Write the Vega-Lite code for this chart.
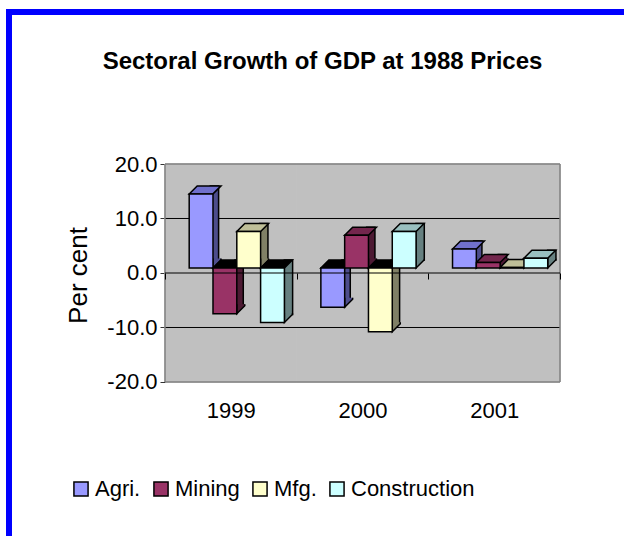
{
  "$schema": "https://vega.github.io/schema/vega-lite/v6.json",
  "width": 621,
  "height": 530,
  "autosize": {"type": "none"},
  "padding": {"left": 9, "top": 12, "right": -6, "bottom": -6},
  "background": "white",
  "config": {
    "view": {"stroke": "#0000FF", "strokeWidth": 6, "fill": null},
    "font": "Liberation Sans",
    "locale": {"number": {"decimal": ".", "thousands": ",", "grouping": [3], "currency": ["$", ""], "minus": "-"}}
  },
  "title": {
    "text": "Sectoral Growth of GDP at 1988 Prices",
    "font": "Liberation Sans",
    "fontSize": 24,
    "fontWeight": "bold",
    "color": "black",
    "anchor": "middle",
    "frame": "group",
    "baseline": "alphabetic",
    "offset": -81,
    "dx": 3
  },
  "datasets": {
    "growth": [
      {"year": "1999", "sector": "Agri.", "value": 13.6},
      {"year": "1999", "sector": "Mining", "value": -8.4},
      {"year": "1999", "sector": "Mfg.", "value": 6.7},
      {"year": "1999", "sector": "Construction", "value": -10.0},
      {"year": "2000", "sector": "Agri.", "value": -7.2},
      {"year": "2000", "sector": "Mining", "value": 6.0},
      {"year": "2000", "sector": "Mfg.", "value": -11.7},
      {"year": "2000", "sector": "Construction", "value": 6.7},
      {"year": "2001", "sector": "Agri.", "value": 3.5},
      {"year": "2001", "sector": "Mining", "value": 1.0},
      {"year": "2001", "sector": "Mfg.", "value": 0.1},
      {"year": "2001", "sector": "Construction", "value": 1.8}
    ],
    "years": [{"year": "1999"}, {"year": "2000"}, {"year": "2001"}],
    "grid": [{"g": 10}, {"g": -10}],
    "border": [{"g": 20}, {"g": -20}],
    "one": [{"k": 1}]
  },
  "layer": [
    {
      "data": {"name": "years"},
      "mark": {"type": "bar", "width": {"band": 1}, "fill": "#C0C0C0", "stroke": "#C0C0C0", "strokeWidth": 1},
      "encoding": {
        "x": {"field": "year", "type": "ordinal",
              "scale": {"domain": ["1999", "2000", "2001"], "paddingInner": 0, "paddingOuter": 0.85823, "align": 0.69027, "round": false},
              "axis": {"orient": "bottom", "offset": -269, "domain": false, "ticks": true, "tickBand": "extent", "tickSize": 6, "tickColor": "black", "tickWidth": 1,
                       "labelPadding": 121, "labelFontSize": 22, "labelColor": "black", "labelAngle": 0, "title": null, "grid": false, "zindex": 1}},
        "y": {"datum": 20, "type": "quantitative",
              "scale": {"domain": [-49.358, 47.89], "nice": false, "zero": false},
              "axis": {"orient": "left", "offset": -156, "domain": false, "values": [-20, -10, 0, 10, 20], "format": ".1f", "tickSize": 5, "tickColor": "#333333",
                       "labelPadding": 3, "labelFontSize": 22, "labelColor": "black", "grid": false,
                       "title": "Per cent", "titleFontSize": 26, "titleFontWeight": "normal", "titleColor": "black", "titleAngle": -90,
                       "titleX": -87, "titleY": 263, "titleAlign": "center", "titleBaseline": "middle"}},
        "y2": {"datum": -20}
      }
    },
    {
      "data": {"name": "grid"},
      "mark": {"type": "rule", "stroke": "black", "strokeWidth": 1, "xOffset": -65.83, "x2Offset": 65.83},
      "encoding": {
        "x": {"datum": "1999", "type": "ordinal"},
        "x2": {"datum": "2001"},
        "y": {"field": "g", "type": "quantitative"}
      }
    },
    {
      "data": {"name": "border"},
      "mark": {"type": "rule", "stroke": "#808080", "strokeWidth": 1.5, "xOffset": -65.83, "x2Offset": 65.83},
      "encoding": {
        "x": {"datum": "1999", "type": "ordinal"},
        "x2": {"datum": "2001"},
        "y": {"field": "g", "type": "quantitative"}
      }
    },
    {
      "data": {"name": "one"},
      "mark": {"type": "rule", "stroke": "#808080", "strokeWidth": 1.5, "xOffset": -65.83},
      "encoding": {
        "x": {"datum": "1999", "type": "ordinal"},
        "y": {"datum": 20, "type": "quantitative"},
        "y2": {"datum": -20}
      }
    },
    {
      "data": {"name": "one"},
      "mark": {"type": "rule", "stroke": "#808080", "strokeWidth": 1.5, "xOffset": 65.83},
      "encoding": {
        "x": {"datum": "2001", "type": "ordinal"},
        "y": {"datum": 20, "type": "quantitative"},
        "y2": {"datum": -20}
      }
    },
    {
      "data": {"name": "growth"},
      "mark": {"type": "bar", "yOffset": -13, "y2Offset": -13, "stroke": "black", "strokeWidth": 1.5},
      "encoding": {
        "x": {"field": "year", "type": "ordinal"},
        "xOffset": {"field": "sector", "type": "nominal",
                    "scale": {"type": "band", "domain": ["Agri.", "Mining", "Mfg.", "Construction"], "paddingInner": 0.664, "paddingOuter": 1.098, "align": 0.918}},
        "y": {"field": "value", "type": "quantitative"},
        "y2": {"datum": 0},
        "color": {"field": "sector", "type": "nominal", "legend": null,
                  "scale": {"domain": ["Agri.", "Mining", "Mfg.", "Construction"], "range": ["#4D4D8C", "#4D1A33", "#808066", "#668080"]}}
      }
    },
    {
      "data": {"name": "growth"},
      "transform": [{"filter": "datum.value >= 0"}],
      "mark": {"type": "point", "shape": "M11.9,-9.5 L11.9,0 L19.9,-8 L19.9,-9.5", "size": 4, "filled": true, "opacity": 1, "stroke": "black", "strokeWidth": 1.5, "yOffset": -5},
      "encoding": {
        "x": {"field": "year", "type": "ordinal"},
        "xOffset": {"field": "sector", "type": "nominal",
                    "scale": {"type": "band", "domain": ["Agri.", "Mining", "Mfg.", "Construction"], "paddingInner": 0, "paddingOuter": 0.766, "align": 0.6636}},
        "y": {"datum": 0, "type": "quantitative"},
        "color": {"field": "sector", "type": "nominal", "legend": null,
                  "scale": {"domain": ["Agri.", "Mining", "Mfg.", "Construction"], "range": ["#4D4D8C", "#4D1A33", "#808066", "#668080"]}}
      }
    },
    {
      "data": {"name": "growth"},
      "transform": [{"filter": "datum.value < 0"}],
      "mark": {"type": "point", "shape": "M11.9,-9.5 L11.9,0 L19.9,-8 L19.9,-9.5", "size": 4, "filled": true, "opacity": 1, "stroke": "black", "strokeWidth": 1.5, "yOffset": -5},
      "encoding": {
        "x": {"field": "year", "type": "ordinal"},
        "xOffset": {"field": "sector", "type": "nominal",
                    "scale": {"type": "band", "domain": ["Agri.", "Mining", "Mfg.", "Construction"], "paddingInner": 0, "paddingOuter": 0.766, "align": 0.6636}},
        "y": {"field": "value", "type": "quantitative"},
        "color": {"field": "sector", "type": "nominal", "legend": null,
                  "scale": {"domain": ["Agri.", "Mining", "Mfg.", "Construction"], "range": ["#4D4D8C", "#4D1A33", "#808066", "#668080"]}}
      }
    },
    {
      "data": {"name": "growth"},
      "transform": [{"filter": "datum.value >= 0"}],
      "mark": {"type": "point", "shape": "M-11.9,0 L11.9,0 L19.9,-8 L-3.9,-8 Z", "size": 4, "filled": true, "opacity": 1, "stroke": "black", "strokeWidth": 1.5, "yOffset": -5},
      "encoding": {
        "x": {"field": "year", "type": "ordinal"},
        "xOffset": {"field": "sector", "type": "nominal",
                    "scale": {"type": "band", "domain": ["Agri.", "Mining", "Mfg.", "Construction"], "paddingInner": 0, "paddingOuter": 0.766, "align": 0.6636}},
        "y": {"field": "value", "type": "quantitative"},
        "color": {"field": "sector", "type": "nominal", "legend": null,
                  "scale": {"domain": ["Agri.", "Mining", "Mfg.", "Construction"], "range": ["#7070CC", "#73264D", "#BFBF99", "#99BFBF"]}}
      }
    },
    {
      "data": {"name": "growth"},
      "transform": [{"filter": "datum.value < 0"}],
      "mark": {"type": "point", "shape": "M-11.9,0 L11.9,0 L19.9,-8 L-3.9,-8 Z", "size": 4, "filled": true, "opacity": 1, "fill": "black", "stroke": "black", "strokeWidth": 1.5, "yOffset": -5},
      "encoding": {
        "x": {"field": "year", "type": "ordinal"},
        "xOffset": {"field": "sector", "type": "nominal",
                    "scale": {"type": "band", "domain": ["Agri.", "Mining", "Mfg.", "Construction"], "paddingInner": 0, "paddingOuter": 0.766, "align": 0.6636}},
        "y": {"datum": 0, "type": "quantitative"}
      }
    },
    {
      "data": {"name": "growth"},
      "mark": {"type": "bar", "stroke": "black", "strokeWidth": 1.5, "yOffset": -5, "y2Offset": -5},
      "encoding": {
        "x": {"field": "year", "type": "ordinal"},
        "xOffset": {"field": "sector", "type": "nominal",
                    "scale": {"type": "band", "domain": ["Agri.", "Mining", "Mfg.", "Construction"], "paddingInner": 0, "paddingOuter": 0.766, "align": 0.6636}},
        "y": {"field": "value", "type": "quantitative"},
        "y2": {"datum": 0},
        "color": {"field": "sector", "type": "nominal",
                  "scale": {"domain": ["Agri.", "Mining", "Mfg.", "Construction"], "range": ["#9999FF", "#993366", "#FFFFCC", "#CCFFFF"]},
                  "legend": {"orient": "none", "legendX": 61, "legendY": 466, "direction": "horizontal", "title": null,
                             "symbolType": "square", "symbolSize": 200, "symbolStrokeColor": "black", "symbolStrokeWidth": 1.5, "symbolOpacity": 1,
                             "labelFontSize": 22, "labelColor": "black", "labelOffset": 3, "columnPadding": 9, "padding": 0}}
      }
    },
    {
      "data": {"name": "one"},
      "mark": {"type": "rule", "stroke": "black", "strokeWidth": 1.2, "xOffset": -65.83, "x2Offset": 65.83},
      "encoding": {
        "x": {"datum": "1999", "type": "ordinal"},
        "x2": {"datum": "2001"},
        "y": {"datum": 0, "type": "quantitative"}
      }
    }
  ],
  "resolve": {"scale": {"color": "independent", "xOffset": "independent"}}
}
